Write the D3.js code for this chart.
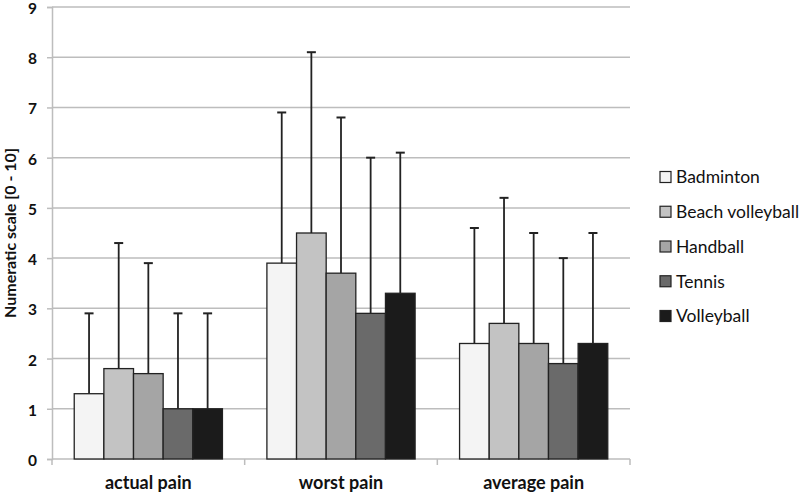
<!DOCTYPE html>
<html>
<head>
<meta charset="utf-8">
<script src="https://cdn.jsdelivr.net/npm/d3@7"></script>
<style>
  html, body { margin: 0; padding: 0; background: #fff; }
  svg { display: block; }
</style>
</head>
<body>
<svg id="chart" width="800" height="493"></svg>
<script>
const categories = ["actual pain", "worst pain", "average pain"];
const seriesNames = ["Badminton", "Beach volleyball", "Handball", "Tennis", "Volleyball"];
const badminton = [1.3, 3.9, 2.3];
const beachVolleyball = [1.8, 4.5, 2.7];
const handball = [1.7, 3.7, 2.3];
const tennis = [1.0, 2.9, 1.9];
const volleyball = [1.0, 3.3, 2.3];
const badmintonUpper = [2.9, 6.9, 4.6];
const beachVolleyballUpper = [4.3, 8.1, 5.2];
const handballUpper = [3.9, 6.8, 4.5];
const tennisUpper = [2.9, 6.0, 4.0];
const volleyballUpper = [2.9, 6.1, 4.5];
const yTicks = [0, 1, 2, 3, 4, 5, 6, 7, 8, 9];
const colors = ["#f4f4f4", "#c3c3c3", "#a5a5a5", "#6a6a6a", "#1b1b1b"];

const values = [badminton, beachVolleyball, handball, tennis, volleyball];
const uppers = [badmintonUpper, beachVolleyballUpper, handballUpper, tennisUpper, volleyballUpper];

const svg = d3.select("#chart");
const pLeft = 52, pRight = 630, pTop = 7, pBottom = 459;

const y = d3.scaleLinear().domain([0, 9]).range([pBottom, pTop]);
const x0 = d3.scaleBand().domain(categories).range([pLeft, pRight]).paddingInner(0).paddingOuter(0);
const gapRatio = 1.5;
const barW = x0.bandwidth() / (seriesNames.length + gapRatio);
const x1 = d3.scaleBand().domain(seriesNames)
  .range([barW * gapRatio / 2, barW * gapRatio / 2 + barW * seriesNames.length]);

// gridlines
svg.append("g").selectAll("line").data(yTicks.filter(d => d > 0)).join("line")
  .attr("x1", pLeft).attr("x2", pRight)
  .attr("y1", d => y(d)).attr("y2", d => y(d))
  .attr("stroke", "#bdbdbd").attr("stroke-width", 1.5);

// y axis
const yAxis = svg.append("g").attr("transform", `translate(${pLeft},0)`)
  .call(d3.axisLeft(y).tickValues(yTicks).tickSize(5).tickPadding(10));
yAxis.select(".domain").attr("stroke", "#bdbdbd").attr("stroke-width", 1.5);
yAxis.selectAll(".tick line").attr("stroke", "#bdbdbd").attr("stroke-width", 1.5);
yAxis.selectAll("text").attr("font-family", "Lato, 'Open Sans', sans-serif")
  .attr("font-weight", "bold").attr("font-size", 15.5).attr("fill", "#111")
  .attr("dy", "0.42em");

// x axis
const xAxis = svg.append("g").attr("transform", `translate(0,${pBottom})`);
xAxis.append("line").attr("x1", pLeft).attr("x2", pRight).attr("y1", 0).attr("y2", 0)
  .attr("stroke", "#bdbdbd").attr("stroke-width", 1.5);
const bounds = categories.map(c => x0(c) + x0.bandwidth()).concat([pLeft]);
xAxis.selectAll("line.tk").data(bounds).join("line").attr("class", "tk")
  .attr("x1", d => d).attr("x2", d => d).attr("y1", 0).attr("y2", 6)
  .attr("stroke", "#bdbdbd").attr("stroke-width", 1.5);
xAxis.selectAll("text").data(categories).join("text")
  .attr("x", d => x0(d) + x0.bandwidth() / 2).attr("y", 30)
  .attr("text-anchor", "middle")
  .attr("font-family", "Lato, 'Open Sans', sans-serif").attr("font-weight", "bold")
  .attr("font-size", 18).attr("fill", "#111").text(d => d);

// y label
svg.append("text")
  .attr("transform", `translate(16,${(pTop + pBottom) / 2}) rotate(-90)`)
  .attr("text-anchor", "middle")
  .attr("font-family", "Lato, 'Open Sans', sans-serif").attr("font-weight", "bold")
  .attr("font-size", 16).attr("fill", "#111")
  .text("Numeratic scale [0 - 10]");

// bars + error bars
const groups = svg.append("g").selectAll("g").data(categories).join("g")
  .attr("transform", c => `translate(${x0(c)},0)`);

seriesNames.forEach((s, si) => {
  groups.append("line")
    .attr("x1", () => x1(s) + x1.bandwidth() / 2)
    .attr("x2", () => x1(s) + x1.bandwidth() / 2)
    .attr("y1", c => y(values[si][categories.indexOf(c)]))
    .attr("y2", c => y(uppers[si][categories.indexOf(c)]))
    .attr("stroke", "#222").attr("stroke-width", 1.8);
  groups.append("line")
    .attr("x1", () => x1(s) + x1.bandwidth() / 2 - 4.5)
    .attr("x2", () => x1(s) + x1.bandwidth() / 2 + 4.5)
    .attr("y1", c => y(uppers[si][categories.indexOf(c)]))
    .attr("y2", c => y(uppers[si][categories.indexOf(c)]))
    .attr("stroke", "#222").attr("stroke-width", 2);
});
seriesNames.forEach((s, si) => {
  groups.append("rect")
    .attr("x", () => x1(s))
    .attr("width", x1.bandwidth())
    .attr("y", c => y(values[si][categories.indexOf(c)]))
    .attr("height", c => pBottom - y(values[si][categories.indexOf(c)]))
    .attr("fill", colors[si]).attr("stroke", "#222").attr("stroke-width", 1.3);
});

// legend
const legend = svg.append("g").attr("transform", "translate(660,0)");
const legY = d3.scalePoint().domain(seriesNames).range([177, 316]);
legend.selectAll("rect").data(seriesNames).join("rect")
  .attr("x", 0).attr("y", d => legY(d) - 5.5).attr("width", 11).attr("height", 11)
  .attr("fill", (d, i) => colors[i]).attr("stroke", "#222").attr("stroke-width", 1.2);
legend.selectAll("text").data(seriesNames).join("text")
  .attr("x", 16).attr("y", d => legY(d)).attr("dy", "0.36em")
  .attr("font-family", "Lato, 'Open Sans', sans-serif").attr("font-size", 17.5)
  .attr("fill", "#111").text(d => d);
</script>
</body>
</html>
